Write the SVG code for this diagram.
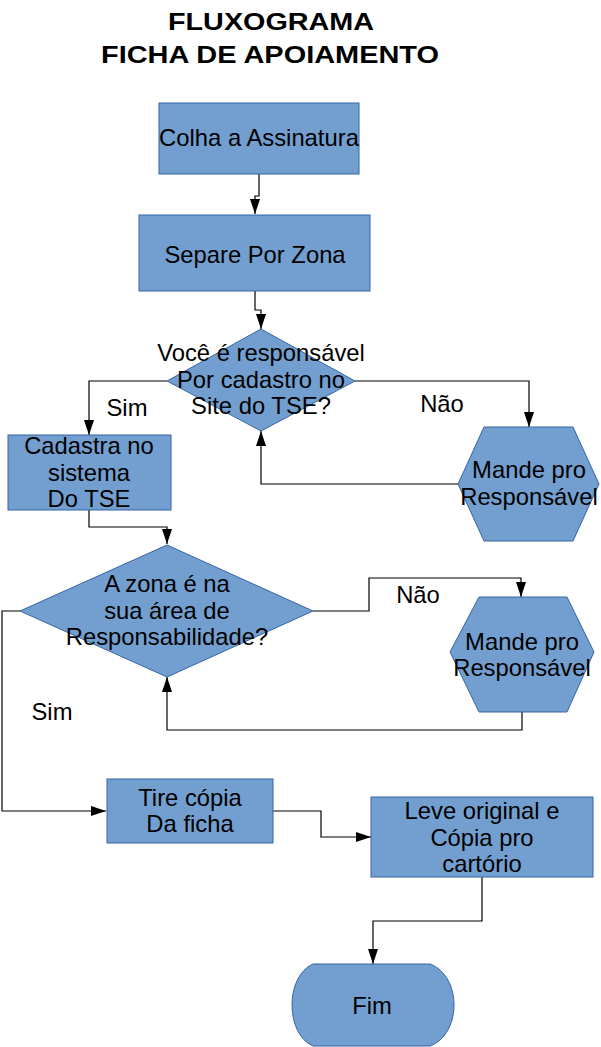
<svg xmlns="http://www.w3.org/2000/svg" width="601" height="1047" viewBox="0 0 601 1047">
<style>
.n{fill:#729fcf;stroke:#3465a4;stroke-width:1}
.t{font-family:"Liberation Sans",Arial,sans-serif;font-size:23.8px;fill:#000;text-anchor:middle}
.h{font-family:"Liberation Sans",Arial,sans-serif;font-size:24px;font-weight:bold;fill:#000;text-anchor:middle}
.c{fill:none;stroke:#000;stroke-width:1.2}
</style>
<defs>
<marker id="a" viewBox="0 0 15 10" markerWidth="15" markerHeight="10" refX="15" refY="5" orient="auto" markerUnits="userSpaceOnUse">
<path d="M0,0 L15,5 L0,10 Z" fill="#000"/>
</marker>
</defs>
<rect width="601" height="1047" fill="#fff"/>
<g id="title">
<text class="h" x="271" y="30" textLength="206" lengthAdjust="spacingAndGlyphs">FLUXOGRAMA</text>
<text class="h" x="270" y="63" textLength="338" lengthAdjust="spacingAndGlyphs">FICHA DE APOIAMENTO</text>
</g>
<g id="connectors">
<path class="c" d="M259,174 V196 H255 V214" marker-end="url(#a)"/>
<path class="c" d="M255,291 V310 H261 V329" marker-end="url(#a)"/>
<path class="c" d="M167,381 H89 V435" marker-end="url(#a)"/>
<path class="c" d="M355,381 H529 V427" marker-end="url(#a)"/>
<path class="c" d="M458,484 H261 V431" marker-end="url(#a)"/>
<path class="c" d="M89,510 V527 H167 V544" marker-end="url(#a)"/>
<path class="c" d="M313,611 H369 V578 H521 V597" marker-end="url(#a)"/>
<path class="c" d="M522,712 V730 H167 V677" marker-end="url(#a)"/>
<path class="c" d="M20,611 H2 V811 H106" marker-end="url(#a)"/>
<path class="c" d="M272,811 H321 V837 H371" marker-end="url(#a)"/>
<path class="c" d="M482,877 V921 H373 V964" marker-end="url(#a)"/>
<text class="t" x="127" y="416">Sim</text>
<text class="t" x="442" y="412">Não</text>
<text class="t" x="418" y="603">Não</text>
<text class="t" x="52" y="720">Sim</text>
</g>
<g id="n1">
<rect class="n" x="159" y="103" width="200" height="71"/>
<text class="t" x="259" y="146">Colha a Assinatura</text>
</g>
<g id="n2">
<rect class="n" x="139" y="215" width="231" height="76"/>
<text class="t" x="255" y="263">Separe Por Zona</text>
</g>
<g id="d1">
<polygon class="n" points="261,329 355,381 261,431 167,381"/>
<text class="t" x="261" y="361">Você é responsável</text>
<text class="t" x="261" y="388">Por cadastro no</text>
<text class="t" x="261" y="414">Site do TSE?</text>
</g>
<g id="h1">
<polygon class="n" points="484,427 573,427 599,484 573,541 484,541 458,484"/>
<text class="t" x="529" y="478">Mande pro</text>
<text class="t" x="529" y="505">Responsável</text>
</g>
<g id="n3">
<rect class="n" x="8" y="435" width="163" height="75"/>
<text class="t" x="89" y="454">Cadastra no</text>
<text class="t" x="89" y="481">sistema</text>
<text class="t" x="89" y="507">Do TSE</text>
</g>
<g id="d2">
<polygon class="n" points="167,545 313,611 167,677 20,611"/>
<text class="t" x="167" y="592">A zona é na</text>
<text class="t" x="167" y="619">sua área de</text>
<text class="t" x="167" y="645">Responsabilidade?</text>
</g>
<g id="h2">
<polygon class="n" points="479,597 567,597 594,652 567,712 479,712 450,652"/>
<text class="t" x="522" y="650">Mande pro</text>
<text class="t" x="522" y="676">Responsável</text>
</g>
<g id="n4">
<rect class="n" x="107" y="779" width="166" height="64"/>
<text class="t" x="190" y="806">Tire cópia</text>
<text class="t" x="190" y="832">Da ficha</text>
</g>
<g id="n5">
<rect class="n" x="371" y="797" width="222" height="80"/>
<text class="t" x="482" y="819">Leve original e</text>
<text class="t" x="482" y="846">Cópia pro</text>
<text class="t" x="482" y="872">cartório</text>
</g>
<g id="n6">
<path class="n" d="M313,964 H430 C462,976 462,1034 430,1046 H313 C285,1034 285,976 313,964 Z"/>
<text class="t" x="372" y="1014">Fim</text>
</g>
</svg>
